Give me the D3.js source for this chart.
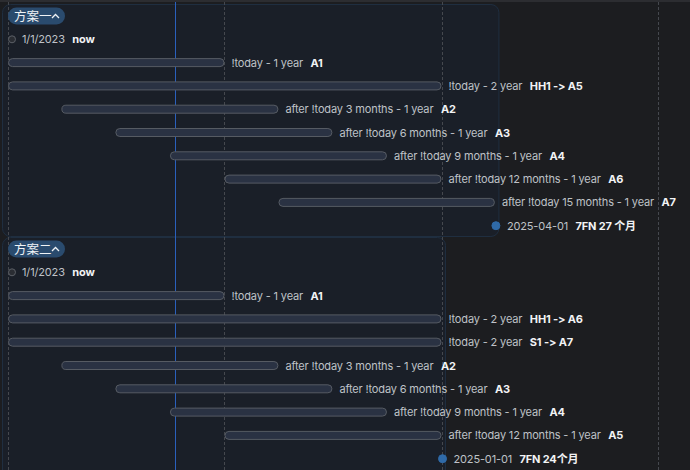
<!DOCTYPE html>
<html>
<head>
<meta charset="utf-8">
<script src="https://cdn.jsdelivr.net/npm/d3@7"></script>
<style>
  html, body { margin: 0; padding: 0; background: #1c1d20; }
  svg { display: block; }
  text { font-variant-ligatures: none; font-feature-settings: "calt" 0, "liga" 0; }
</style>
</head>
<body>
<script>
var width = 690, height = 470;

// group titles
var groupTitles = ['方案一', '方案二'];

// group 1 tasks
var g1Names = ['now', 'A1', 'HH1 -> A5', 'A2', 'A3', 'A4', 'A6', 'A7', '7FN 27 个月'];
var g1Desc = ['1/1/2023', '!today - 1 year', '!today - 2 year', 'after !today 3 months - 1 year',
  'after !today 6 months - 1 year', 'after !today 9 months - 1 year', 'after !today 12 months - 1 year',
  'after !today 15 months - 1 year', '2025-04-01'];
var g1Start = ['2023-01-01', '2023-01-01', '2023-01-01', '2023-04-01', '2023-07-01', '2023-10-01', '2024-01-01', '2024-04-01', '2025-04-01'];
var g1End = [null, '2024-01-01', '2025-01-01', '2024-04-01', '2024-07-01', '2024-10-01', '2025-01-01', '2025-04-01', null];

// group 2 tasks
var g2Names = ['now', 'A1', 'HH1 -> A6', 'S1 -> A7', 'A2', 'A3', 'A4', 'A5', '7FN 24个月'];
var g2Desc = ['1/1/2023', '!today - 1 year', '!today - 2 year', '!today - 2 year', 'after !today 3 months - 1 year',
  'after !today 6 months - 1 year', 'after !today 9 months - 1 year', 'after !today 12 months - 1 year', '2025-01-01'];
var g2Start = ['2023-01-01', '2023-01-01', '2023-01-01', '2023-01-01', '2023-04-01', '2023-07-01', '2023-10-01', '2024-01-01', '2025-01-01'];
var g2End = [null, '2024-01-01', '2025-01-01', '2025-01-01', '2024-04-01', '2024-07-01', '2024-10-01', '2025-01-01', null];

var todayDate = '2023-10-09';

var parse = d3.timeParse('%Y-%m-%d');

function buildRows(names, desc, start, end) {
  return names.map(function(n, i) {
    return {
      name: n, desc: desc[i],
      start: parse(start[i]),
      end: end[i] ? parse(end[i]) : null,
      first: i === 0
    };
  });
}

var groups = [
  { title: groupTitles[0], rows: buildRows(g1Names, g1Desc, g1Start, g1End) },
  { title: groupTitles[1], rows: buildRows(g2Names, g2Desc, g2Start, g2End) }
];

var x = d3.scaleTime()
  .domain([parse('2023-01-01'), parse('2026-01-01')])
  .range([8, 658]);

var rowH = 23.3;

var svg = d3.select('body').append('svg')
  .attr('width', width)
  .attr('height', height)
  .style('font-family', 'Inter, "Noto Sans CJK SC", sans-serif');

svg.append('rect').attr('width', width).attr('height', height).attr('fill', '#1c1d20');
svg.append('rect').attr('width', width).attr('height', 2).attr('fill', '#2c2d31');

// group boxes
var groupY = function(gi) { return 4.5 + gi * rowH * 10; };

groups.forEach(function(g, gi) {
  var maxX = d3.max(g.rows, function(r) { return x(r.end || r.start); });
  svg.append('rect')
    .attr('x', 2.5).attr('y', groupY(gi))
    .attr('width', maxX + 4 - 2.5)
    .attr('height', gi === 0 ? rowH * 10 - 1 : rowH * 10 + 20)
    .attr('rx', 8)
    .attr('fill', '#1a1f28')
    .attr('stroke', '#1f2e40');
});

// dashed year lines
svg.selectAll('line.grid')
  .data(x.ticks(d3.timeYear.every(1)))
  .enter().append('line')
  .attr('class', 'grid')
  .attr('x1', function(d) { return Math.round(x(d)) + 0.5; })
  .attr('x2', function(d) { return Math.round(x(d)) + 0.5; })
  .attr('y1', 2).attr('y2', height)
  .attr('stroke', '#45484e')
  .attr('stroke-dasharray', '3,2');

// today line
svg.append('line')
  .attr('x1', Math.round(x(parse(todayDate))) + 0.5)
  .attr('x2', Math.round(x(parse(todayDate))) + 0.5)
  .attr('y1', 2).attr('y2', height)
  .attr('stroke', '#2a60bd')
  .attr('stroke-width', 1);

groups.forEach(function(g, gi) {
  var top = groupY(gi);
  var gEl = svg.append('g');

  // header pill
  var hy = top + 11.5;
  gEl.append('rect')
    .attr('x', 8).attr('y', hy - 8.5)
    .attr('width', 57).attr('height', 17)
    .attr('rx', 8.5)
    .attr('fill', '#2a4b6e');
  gEl.append('text')
    .attr('x', 14).attr('y', hy + 4.5)
    .attr('fill', '#f0f3f6')
    .style('font-size', '12.5px')
    .text(g.title);
  gEl.append('path')
    .attr('d', 'M' + 52 + ',' + (hy + 2) + 'l3.5,-3.5l3.5,3.5')
    .attr('fill', 'none')
    .attr('stroke', '#f0f3f6')
    .attr('stroke-width', 1.3);

  var rows = gEl.selectAll('g.row')
    .data(g.rows)
    .enter().append('g')
    .attr('class', 'row')
    .attr('transform', function(d, i) { return 'translate(0,' + (top + 11.5 + (i + 1) * rowH) + ')'; });

  // bars
  rows.filter(function(d) { return d.end; })
    .append('rect')
    .attr('x', function(d) { return x(d.start) + 0.5; })
    .attr('y', -4)
    .attr('width', function(d) { return x(d.end) - x(d.start) - 1; })
    .attr('height', 8)
    .attr('rx', 4)
    .attr('fill', '#2a3243')
    .attr('stroke', '#565b63');

  // milestones
  rows.filter(function(d) { return !d.end; })
    .append('circle')
    .attr('cx', function(d) { return x(d.start) + (d.first ? 4 : 1); })
    .attr('cy', 0)
    .attr('r', function(d) { return d.first ? 3.5 : 4; })
    .attr('fill', function(d) { return d.first ? '#2a2d33' : '#2f6aa8'; })
    .attr('stroke', function(d) { return d.first ? '#5b5f66' : '#2f6aa8'; });

  var label = rows.append('text')
    .attr('x', function(d) {
      if (d.end) return x(d.end) + 7;
      return x(d.start) + (d.first ? 14 : 12);
    })
    .attr('y', 4)
    .style('font-size', '11px')
    .style('letter-spacing', '-0.15px');
  label.append('tspan')
    .attr('fill', '#bfc2c7')
    .text(function(d) { return d.desc; });
  label.append('tspan')
    .attr('dx', 7.5)
    .attr('fill', '#f2f3f5')
    .attr('font-weight', 'bold')
    .text(function(d) { return d.name; });
});
</script>
</body>
</html>
